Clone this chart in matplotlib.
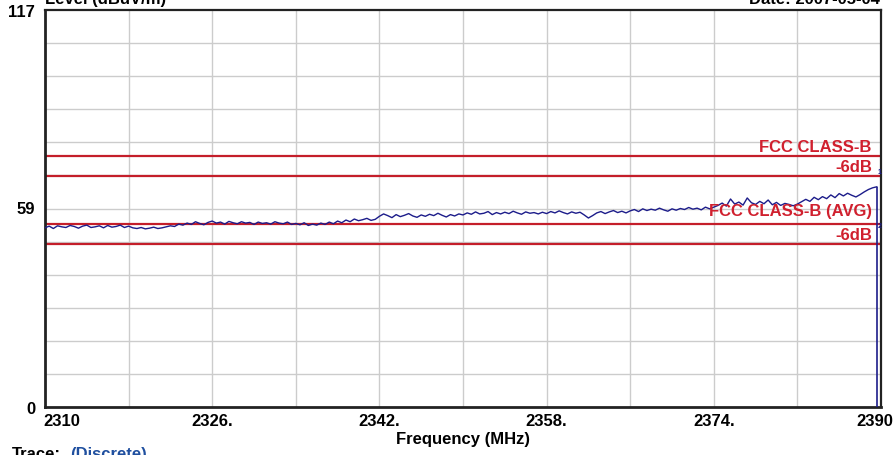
import numpy as np
import matplotlib
matplotlib.use("Agg")
import matplotlib.pyplot as plt
from matplotlib.transforms import offset_copy

plt.rcParams['font.family'] = ['Liberation Sans', 'DejaVu Sans']
plt.rcParams['font.weight'] = 'bold'

# Measured field strength, dBuV/m, sampled every 0.4 MHz from 2310 MHz
level = [
    52.8, 53.3, 52.6, 53.4, 53.1, 52.9, 53.5, 53.2, 52.7, 53.3, 53.6, 52.9, 53.1, 53.4, 52.8, 53.5, 53.0, 53.2, 53.6, 52.9,
    53.3, 52.8, 52.6, 52.9, 52.5, 52.7, 53.0, 52.6, 52.8, 53.1, 53.4, 53.2, 53.9, 53.6, 54.2, 53.8, 54.6, 54.1, 53.7, 54.4,
    54.8, 54.2, 54.5, 53.9, 54.7, 54.3, 54.0, 54.6, 54.2, 54.4, 53.8, 54.5, 54.1, 54.3, 53.9, 54.6, 54.2, 54.0, 54.5, 53.8,
    54.1, 53.7, 54.3, 53.5, 53.9, 53.6, 54.2, 53.8, 54.5, 54.0, 54.8, 54.3, 55.1, 54.6, 55.4, 54.9, 55.2, 55.6, 55.0, 55.3,
    56.2, 56.9, 56.4, 55.8, 56.7, 56.1, 56.5, 57.0, 56.3, 55.9, 56.6, 56.2, 56.8, 56.4, 57.1, 56.5, 56.0, 56.7, 56.3, 56.9,
    56.6, 57.2, 56.8, 57.5, 56.9, 57.1, 57.6, 56.7, 57.3, 56.9, 57.4, 57.0, 57.7, 57.2, 56.8, 57.5, 57.1, 57.3, 56.9, 57.4,
    57.0, 57.6, 57.2, 57.8, 57.3, 56.9, 57.5, 57.1, 57.4, 56.6, 55.7, 56.4, 57.2, 57.6, 57.0, 57.5, 57.9, 57.3, 57.7, 57.2,
    57.8, 58.2, 57.6, 58.4, 57.9, 58.3, 58.0, 58.6, 58.1, 57.7, 58.4, 58.0, 58.5, 58.2, 58.8, 58.3, 58.6, 58.1, 58.9, 58.4,
    58.9, 59.4, 60.1, 59.2, 61.3, 59.8, 60.4, 59.5, 61.6, 60.2, 59.7, 60.6, 59.9, 61.0, 59.6, 60.3, 59.4, 60.0, 59.7, 59.3,
    59.8, 60.5, 61.2, 60.6, 61.8, 61.1, 62.0, 61.4, 62.5, 61.7, 62.9, 62.2, 63.0, 62.4, 61.9, 62.6, 63.4, 64.1, 64.6, 64.9,
]
freq_start = 2310.0
freq_step = 0.4
freq = freq_start + freq_step * np.arange(len(level))

# Limit lines (dBuV/m) and their captions
limit_values = [74, 68, 54, 48]
limit_labels = ["FCC CLASS-B", "-6dB", "FCC CLASS-B (AVG)", "-6dB"]
label_heights = [75.5, 69.5, 56.6, 49.5]

# Axis ranges and labels
x_min, x_max = 2310, 2390
y_min, y_max = 0, 117
x_tick_values = [2310, 2326, 2342, 2358, 2374, 2390]
x_tick_labels = ["2310", "2326.", "2342.", "2358.", "2374.", "2390"]
y_tick_values = [0, 59, 117]
y_tick_labels = ["0", "59", "117"]

W, H = 894, 456
fig = plt.figure(figsize=(W / 100, H / 100), dpi=100)
ax = fig.add_axes([45 / W, 1 - 408 / H, 836 / W, 397 / H])
ax.set_xlim(x_min, x_max)
ax.set_ylim(y_min, y_max)

# light grid: 10 columns, 12 rows
for gx in np.linspace(x_min, x_max, 11)[1:-1]:
    ax.axvline(gx, color='#cccccc', lw=1.0, zorder=1)
for gy in np.linspace(y_min, y_max, 13)[1:-1]:
    ax.axhline(gy, color='#cccccc', lw=1.0, zorder=1)

red = '#c41e2a'
for v in limit_values:
    ax.axhline(v, color=red, lw=1.6, zorder=2)

ytr = ax.get_yaxis_transform()
for lab, hy in zip(limit_labels, label_heights):
    ax.text(0.989, hy, lab, transform=ytr, ha='right', va='baseline',
            color='#d0202e', fontsize=12, fontweight='bold', zorder=5)

navy = '#1c1c8a'
ax.plot(freq, level, color=navy, lw=1.0, zorder=4)
ax.vlines(freq[-1], 0, level[-1], color=navy, lw=1.2, zorder=4)
ax.text(freq[-1] + 0.1, 68.3, "1", color=navy, fontsize=5, ha='left', va='bottom', zorder=6)
ax.text(freq[-1] + 0.1, 52.5, "2", color=navy, fontsize=5, ha='left', va='bottom', zorder=6)

# axes frame
for side, lw in [('left', 2.0), ('bottom', 2.0), ('top', 1.6), ('right', 1.6)]:
    ax.spines[side].set_linewidth(lw)
    ax.spines[side].set_color('#222222')

ax.set_xticks([])
ax.set_yticks(y_tick_values)
ax.set_yticklabels(y_tick_labels, fontsize=12, fontweight='bold')
ax.tick_params(axis='y', length=0, pad=7)

xtr = ax.get_xaxis_transform()
for i, (tv, tl) in enumerate(zip(x_tick_values, x_tick_labels)):
    if i == 0:
        ha, dx = 'left', -2
    elif i == len(x_tick_values) - 1:
        ha, dx = 'right', 12
    else:
        ha, dx = 'center', 0
    tr = offset_copy(xtr, fig=fig, x=dx, y=-6, units='dots')
    ax.text(tv, 0, tl, transform=tr, ha=ha, va='top', fontsize=12, fontweight='bold')

fig.text(463 / W, 1 - 432 / H, "Frequency (MHz)", ha='center', va='top', fontsize=12, fontweight='bold')
fig.text(45 / W, 1 - 4 / H, "Level (dBuV/m)", ha='left', va='baseline', fontsize=12, fontweight='bold')
fig.text(880 / W, 1 - 4 / H, "Date: 2007-05-04", ha='right', va='baseline', fontsize=12, fontweight='bold')
fig.text(12 / W, 1 - 447 / H, "Trace:", ha='left', va='top', fontsize=12, fontweight='bold')
fig.text(70 / W, 1 - 447 / H, "(Discrete)", ha='left', va='top', fontsize=12, fontweight='bold', color='#1f4f9f')

fig.savefig("out.png", dpi=100)
